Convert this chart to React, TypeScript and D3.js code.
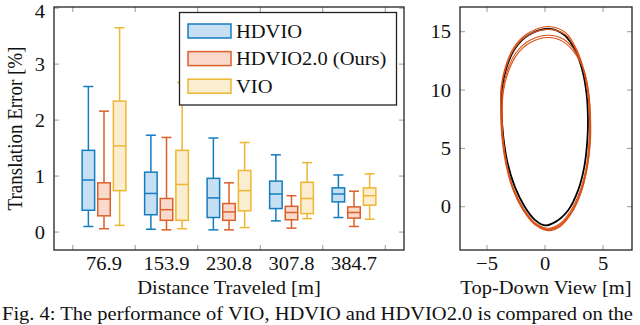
import React from "react";
import * as d3 from "d3";

// x categories (distance traveled in m)
const distances = ["76.9", "153.9", "230.8", "307.8", "384.7"];
const seriesNames = ["HDVIO", "HDVIO2.0 (Ours)", "VIO"];

// box stats per distance: [lower whisker, q1, median, q3, upper whisker]
const hdvio = [
  [0.1, 0.39, 0.93, 1.46, 2.6],
  [0.05, 0.31, 0.69, 1.07, 1.73],
  [0.04, 0.26, 0.61, 0.96, 1.68],
  [0.2, 0.42, 0.68, 0.91, 1.38],
  [0.26, 0.54, 0.68, 0.79, 1.02],
];
const hdvio2 = [
  [0.06, 0.29, 0.59, 0.88, 2.16],
  [0.04, 0.21, 0.4, 0.6, 1.69],
  [0.04, 0.21, 0.36, 0.51, 0.88],
  [0.07, 0.22, 0.35, 0.46, 0.65],
  [0.1, 0.25, 0.35, 0.45, 0.73],
];
const vio = [
  [0.12, 0.74, 1.54, 2.34, 3.65],
  [0.06, 0.21, 0.85, 1.46, 2.67],
  [0.08, 0.38, 0.74, 1.1, 1.6],
  [0.24, 0.33, 0.6, 0.89, 1.24],
  [0.23, 0.48, 0.65, 0.79, 1.04],
];
const errorTicks = [0, 1, 2, 3, 4];

// top-down trajectory (m): ground truth and estimated laps
const groundTruth = [
  [0.4, 15.25], [-1.45, 14.7], [-2.6, 13.55], [-3.3, 12.0], [-3.68, 10.3], [-3.75, 8.3],
  [-3.6, 6.0], [-3.22, 3.7], [-2.6, 1.7], [-1.75, 0.0], [-0.85, -1.15], [0.0, -1.6],
  [0.9, -1.3], [2.0, -0.3], [2.85, 1.4], [3.38, 3.4], [3.65, 5.7], [3.7, 7.7],
  [3.58, 9.7], [3.22, 11.7], [2.6, 13.4], [1.7, 14.7],
];
const lapA = [
  [0.3, 15.45], [-1.5, 14.85], [-2.7, 13.65], [-3.4, 12.05], [-3.78, 10.3], [-3.82, 8.3],
  [-3.72, 6.0], [-3.38, 3.65], [-2.8, 1.55], [-1.95, -0.2], [-0.95, -1.45], [0.15, -1.95],
  [1.15, -1.65], [2.2, -0.55], [3.05, 1.25], [3.6, 3.35], [3.85, 5.65], [3.85, 7.7],
  [3.7, 9.7], [3.35, 11.7], [2.72, 13.5], [1.8, 14.9],
];
const lapB = [
  [0.35, 14.7], [-1.35, 14.25], [-2.5, 13.2], [-3.2, 11.8], [-3.62, 10.1], [-3.72, 8.2],
  [-3.65, 5.95], [-3.32, 3.6], [-2.75, 1.5], [-1.9, -0.25], [-0.85, -1.55], [0.3, -2.05],
  [1.25, -1.75], [2.25, -0.6], [3.1, 1.2], [3.62, 3.3], [3.88, 5.6], [3.9, 7.7],
  [3.75, 9.7], [3.38, 11.6], [2.65, 13.25], [1.6, 14.35],
];
const lapC = [
  [0.3, 14.5], [-1.3, 14.05], [-2.45, 13.0], [-3.15, 11.6], [-3.58, 9.95], [-3.7, 8.1],
  [-3.62, 5.9], [-3.28, 3.55], [-2.7, 1.45], [-1.85, -0.2], [-0.8, -1.5], [0.35, -1.95],
  [1.3, -1.65], [2.3, -0.5], [3.12, 1.3], [3.65, 3.4], [3.92, 5.7], [3.92, 7.75],
  [3.78, 9.7], [3.4, 11.55], [2.62, 13.1], [1.55, 14.15],
];
const lapD = [
  [0.2, 15.2], [-1.55, 14.65], [-2.68, 13.5], [-3.38, 11.9], [-3.75, 10.2], [-3.8, 8.25],
  [-3.68, 5.95], [-3.3, 3.6], [-2.7, 1.55], [-1.85, -0.15], [-0.9, -1.35], [0.2, -1.85],
  [1.15, -1.55], [2.15, -0.45], [3.0, 1.3], [3.55, 3.4], [3.8, 5.7], [3.82, 7.75],
  [3.68, 9.75], [3.3, 11.75], [2.68, 13.45], [1.75, 14.75],
];
const topTicksX = [-5, 0, 5];
const topTicksY = [0, 5, 10, 15];

const caption = "Fig. 4: The performance of VIO, HDVIO and HDVIO2.0 is compared on the";

const colors = ["#0072BD", "#D95319", "#EDB120"];
const fills = ["#c3ddf1", "#f8d6c8", "#fbeccb"];
const FONT = "'Liberation Serif', 'Times New Roman', serif";
const FS = 19;
const STRETCH = 1.08; // the reference glyphs are a bit wider than tall
const tickGray = "#9a9a9a";

function Txt({ x, y, anchor = "middle", rotate = 0, children }: any) {
  return (
    <text
      transform={`translate(${x},${y}) scale(${STRETCH},1) rotate(${rotate})`}
      textAnchor={anchor}
      fontFamily={FONT}
      fontSize={FS}
      fill="#111"
    >
      {children}
    </text>
  );
}

function BoxPlot() {
  const L = 54, R = 404, T = 7, B = 250;
  const x = d3.scaleLinear().domain([0.2, 5.8]).range([L, R]);
  const y = d3.scaleLinear().domain([-0.32, 4.02]).range([B, T]);
  const data = [hdvio, hdvio2, vio];
  const offsets = [-0.25, 0, 0.25];
  const bw = 0.2;
  const halfBox = (x(bw) - x(0)) / 2;
  const halfCap = halfBox * 0.8;

  return (
    <g>
      {/* tick marks */}
      {d3.range(0.5, 6, 1).map((t) => (
        <g key={"xt" + t} stroke={tickGray} strokeWidth={1}>
          <line x1={x(t)} x2={x(t)} y1={B} y2={B - 5} />
          <line x1={x(t)} x2={x(t)} y1={T} y2={T + 5} />
        </g>
      ))}
      {errorTicks.map((t) => (
        <g key={"yt" + t} stroke={tickGray} strokeWidth={1}>
          <line x1={L} x2={L + 5} y1={y(t)} y2={y(t)} />
          <line x1={R} x2={R - 5} y1={y(t)} y2={y(t)} />
        </g>
      ))}

      {data.map((series, s) =>
        series.map((d, i) => {
          const cx = x(i + 1 + offsets[s]);
          const [lo, q1, med, q3, hi] = d;
          return (
            <g key={s + "-" + i} stroke={colors[s]} strokeWidth={1.5} opacity={0.92}>
              <line x1={cx} x2={cx} y1={y(hi)} y2={y(q3)} />
              <line x1={cx} x2={cx} y1={y(q1)} y2={y(lo)} />
              <line x1={cx - halfCap} x2={cx + halfCap} y1={y(hi)} y2={y(hi)} />
              <line x1={cx - halfCap} x2={cx + halfCap} y1={y(lo)} y2={y(lo)} />
              <rect
                x={cx - halfBox}
                y={y(q3)}
                width={halfBox * 2}
                height={y(q1) - y(q3)}
                fill={fills[s]}
              />
              <line x1={cx - halfBox} x2={cx + halfBox} y1={y(med)} y2={y(med)} />
            </g>
          );
        })
      )}

      <rect x={L} y={T} width={R - L} height={B - T} fill="none" stroke="#222" strokeWidth={1.3} />

      {errorTicks.map((t) => (
        <Txt key={"yl" + t} x={L - 9} y={Math.max(y(t) + 6.5, 18)} anchor="end">
          {t}
        </Txt>
      ))}
      {distances.map((d, i) => (
        <Txt key={d} x={x(i + 1)} y={270}>
          {d}
        </Txt>
      ))}
      <Txt x={(L + R) / 2} y={294}>Distance Traveled [m]</Txt>
      <Txt x={22} y={(T + B) / 2} rotate={-90}>Translation Error [%]</Txt>

      {/* legend */}
      <g>
        <rect x={179.5} y={12.5} width={217} height={92.5} fill="#fff" stroke="#222" strokeWidth={1.3} />
        {seriesNames.map((n, s) => (
          <g key={n}>
            <rect
              x={188}
              y={24 + s * 27.6}
              width={43}
              height={14}
              fill={fills[s]}
              stroke={colors[s]}
              strokeWidth={1.5}
              opacity={0.92}
            />
            <Txt x={236} y={37.5 + s * 27.6} anchor="start">
              {n}
            </Txt>
          </g>
        ))}
      </g>
    </g>
  );
}

function TopView() {
  const L = 460, R = 632, T = 7, B = 250;
  const x = d3.scaleLinear().domain([-7.33, 7.5]).range([L, R]);
  const y = d3.scaleLinear().domain([-3.71, 17.12]).range([B, T]);
  const line = d3
    .line<number[]>()
    .x((d) => x(d[0]))
    .y((d) => y(d[1]))
    .curve(d3.curveCatmullRomClosed);
  const laps = [lapA, lapB, lapC, lapD];

  return (
    <g>
      {topTicksX.map((t) => (
        <g key={"xt" + t} stroke={tickGray} strokeWidth={1}>
          <line x1={x(t)} x2={x(t)} y1={B} y2={B - 5} />
          <line x1={x(t)} x2={x(t)} y1={T} y2={T + 5} />
        </g>
      ))}
      {topTicksY.map((t) => (
        <g key={"yt" + t} stroke={tickGray} strokeWidth={1}>
          <line x1={L} x2={L + 5} y1={y(t)} y2={y(t)} />
          <line x1={R} x2={R - 5} y1={y(t)} y2={y(t)} />
        </g>
      ))}

      <path d={line(groundTruth) || ""} fill="none" stroke="#000" strokeWidth={1.8} />
      {laps.map((lap, i) => (
        <path key={i} d={line(lap) || ""} fill="none" stroke="#D95319" strokeWidth={1.1} />
      ))}

      <rect x={L} y={T} width={R - L} height={B - T} fill="none" stroke="#222" strokeWidth={1.3} />

      {topTicksY.map((t) => (
        <Txt key={"yl" + t} x={L - 9} y={y(t) + 6.5} anchor="end">
          {t}
        </Txt>
      ))}
      {topTicksX.map((t) => (
        <Txt key={"xl" + t} x={x(t)} y={270}>
          {t < 0 ? "\u2212" + Math.abs(t) : String(t)}
        </Txt>
      ))}
      <Txt x={(L + R) / 2} y={294}>Top-Down View [m]</Txt>
    </g>
  );
}

export default function App() {
  return (
    <svg
      width={640}
      height={325}
      style={{ position: "absolute", left: 0, top: 0, background: "#fff" }}
    >
      <rect width={640} height={325} fill="#fff" />
      <BoxPlot />
      <TopView />
      <Txt x={2} y={320} anchor="start">
        {caption}
      </Txt>
    </svg>
  );
}
